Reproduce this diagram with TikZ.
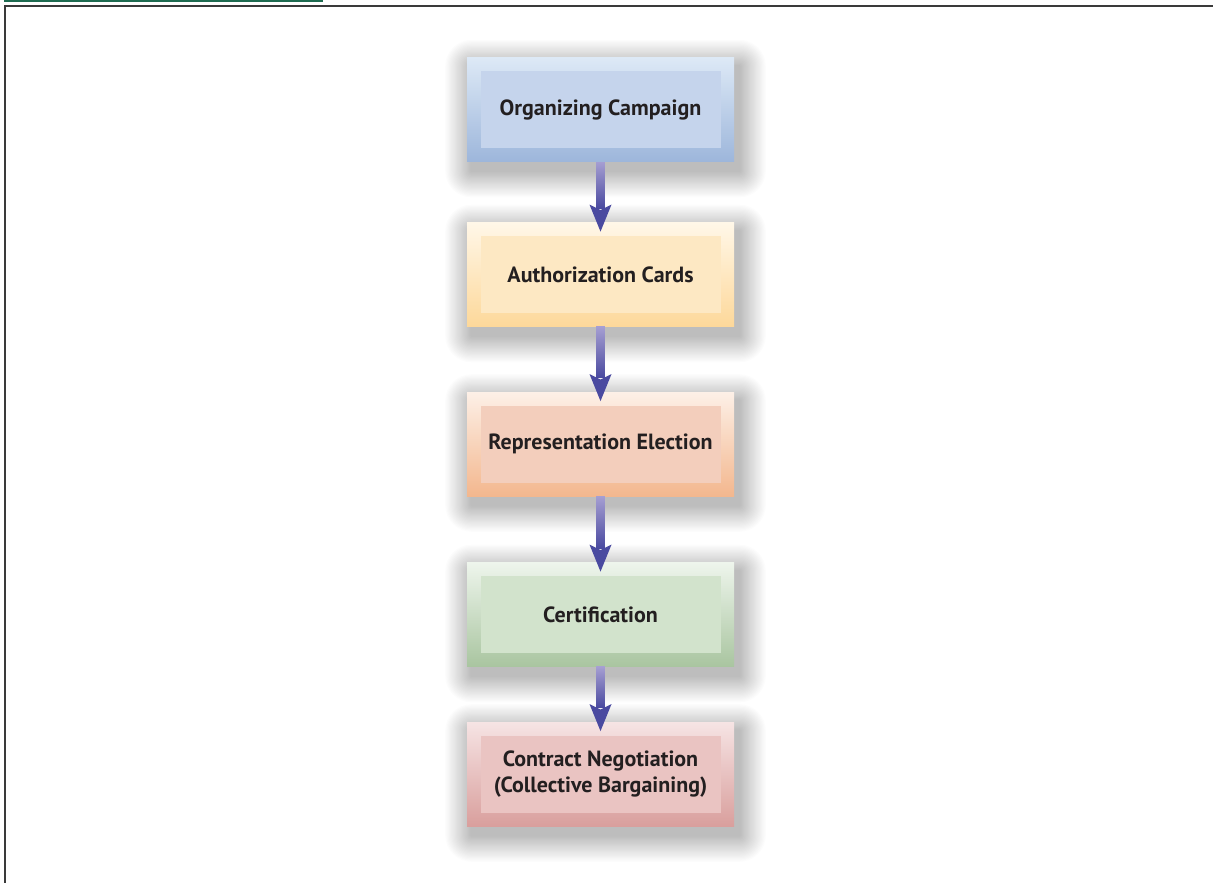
\documentclass[tikz,border=0pt]{standalone}
\usepackage{fontspec}
\setmainfont{PT Sans}
\usetikzlibrary{calc,backgrounds}
\definecolor{frameline}{HTML}{3A3A3A}
\definecolor{topgreen}{HTML}{1E6B50}
\definecolor{txt}{HTML}{231F20}
\definecolor{arrowlight}{HTML}{A59ED2}
\definecolor{arrowdark}{HTML}{4A4AA0}
\definecolor{aTop}{HTML}{DDE9F6}\definecolor{aBot}{HTML}{9DB6DB}\definecolor{aIn}{HTML}{C5D4EC}
\definecolor{bTop}{HTML}{FFF7E8}\definecolor{bBot}{HTML}{FDD89A}\definecolor{bIn}{HTML}{FDE8C3}
\definecolor{cTop}{HTML}{FDF0E7}\definecolor{cBot}{HTML}{F3B78E}\definecolor{cIn}{HTML}{F3CEBC}
\definecolor{dTop}{HTML}{EEF5EC}\definecolor{dBot}{HTML}{A9C5A0}\definecolor{dIn}{HTML}{D2E3CC}
\definecolor{eTop}{HTML}{F6E4E4}\definecolor{eBot}{HTML}{D99F9D}\definecolor{eIn}{HTML}{EAC4C2}
\tikzset{
  outerbox/.style={minimum width=133.5pt, minimum height=52pt, inner sep=0pt},
  innerbox/.style={minimum width=120pt, minimum height=38.5pt, inner sep=0pt, align=center,
    text=txt, font=\fontsize{11}{13.3}\selectfont\bfseries},
  shadowlayer/.style={fill=black, fill opacity=0.011},
}
\begin{document}
\begin{tikzpicture}[x=0.5pt,y=-0.5pt]
\useasboundingbox (0,0) rectangle (1213,883);
% boxes
\foreach \n/\y/\c in {b1/109.6/a, b2/274.5/b, b3/444/c, b4/614.5/d, b5/774/e}{
  \node[outerbox, top color=\c Top, bottom color=\c Bot] (\n) at (600.5,\y) {};
}
\node[innerbox, fill=aIn] (t1) at (b1) {Organizing Campaign};
\node[innerbox, fill=bIn] (t2) at (b2) {Authorization Cards};
\node[innerbox, fill=cIn] (t3) at (b3) {Representation Election};
\node[innerbox, fill=dIn] (t4) at (b4) {Certification};
\node[innerbox, fill=eIn] (t5) at (b5) {Contract Negotiation\\(Collective Bargaining)};
% soft shadows
\begin{pgfonlayer}{background}
\fill[white] (0,0) rectangle (1213,883);
\foreach \n in {b1,b2,b3,b4,b5}{
  \foreach \i in {1,...,22}{
    \fill[shadowlayer, rounded corners=\i*0.6pt]
      ($(\n.south west)+(5-1.2*\i,9+1.2*\i)$) rectangle ($(\n.north east)+(5+1.2*\i,9-1.2*\i)$);
  }
}
\end{pgfonlayer}
% frame
\draw[topgreen, line width=1.2pt] (4,0.8) -- (323,0.8);
\draw[frameline, line width=1pt] (1213,6.5) -- (4.5,6.5) -- (4.5,883);
% arrows
\foreach \a/\b in {b1/b2, b2/b3, b3/b4, b4/b5}{
  \shade[top color=arrowlight, bottom color=arrowdark]
    ($(\a.south)+(-4.3,0)$) rectangle ($(\b.north)+(4.3,-14)$);
  \fill[arrowdark] ($(\b.north)+(0,9.5)$) -- ($(\b.north)+(-11,-17.5)$)
    -- ($(\b.north)+(0,-12)$) -- ($(\b.north)+(11,-17.5)$) -- cycle;
}
\end{tikzpicture}
\end{document}
